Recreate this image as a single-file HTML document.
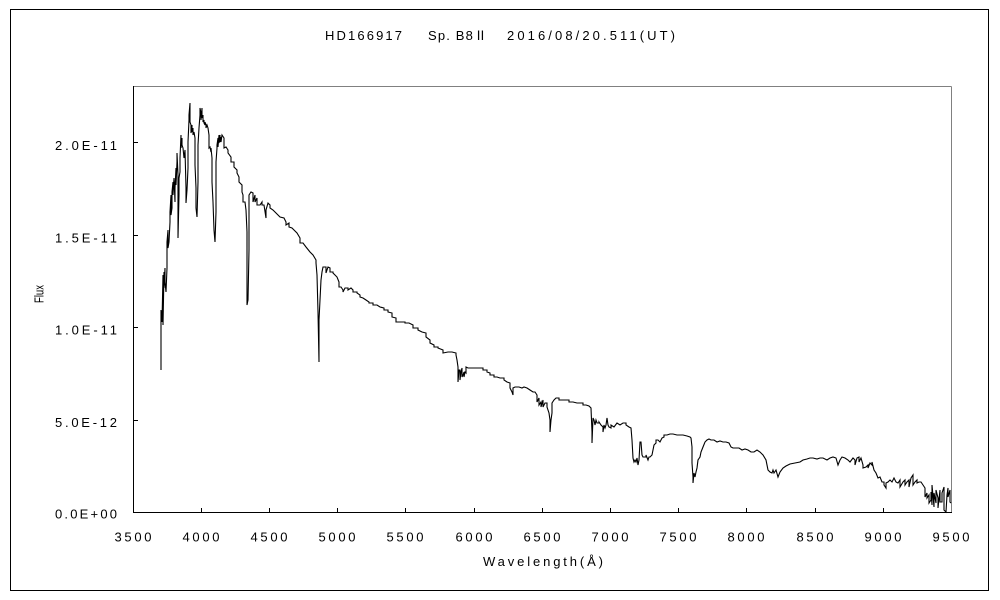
<!DOCTYPE html>
<html>
<head>
<meta charset="utf-8">
<style>
html,body{margin:0;padding:0;background:#fff;}
svg{display:block;}
text{font-family:"Liberation Sans","Noto Sans CJK JP",sans-serif;font-size:13px;fill:#000;}
</style>
</head>
<body>
<svg width="1000" height="600" viewBox="0 0 1000 600" xmlns="http://www.w3.org/2000/svg">
<rect x="0" y="0" width="1000" height="600" fill="#fff"/>
<rect x="10.5" y="9.5" width="978" height="581" fill="none" stroke="#000" stroke-width="1" shape-rendering="crispEdges"/>

<!-- title -->
<text x="325" y="40" textLength="77" lengthAdjust="spacing">HD166917</text>
<text x="428" y="40" textLength="59" lengthAdjust="spacing">Sp. B8Ⅱ</text>
<text x="507" y="40" textLength="168" lengthAdjust="spacing">2016/08/20.511(UT)</text>

<!-- plot frame -->
<g shape-rendering="crispEdges" stroke-width="1">
<line x1="133.5" y1="86.5" x2="951.5" y2="86.5" stroke="#808080"/>
<line x1="951.5" y1="86.5" x2="951.5" y2="512.5" stroke="#808080"/>
<line x1="133.5" y1="86" x2="133.5" y2="513" stroke="#000"/>
<line x1="133" y1="512.5" x2="952" y2="512.5" stroke="#000"/>
<line x1="133" y1="142.5" x2="138" y2="142.5" stroke="#000"/>
<line x1="133" y1="235.5" x2="138" y2="235.5" stroke="#000"/>
<line x1="133" y1="327.5" x2="138" y2="327.5" stroke="#000"/>
<line x1="133" y1="420.5" x2="138" y2="420.5" stroke="#000"/>
<line x1="201.5" y1="508" x2="201.5" y2="512" stroke="#000"/>
<line x1="269.5" y1="508" x2="269.5" y2="512" stroke="#000"/>
<line x1="337.5" y1="508" x2="337.5" y2="512" stroke="#000"/>
<line x1="405.5" y1="508" x2="405.5" y2="512" stroke="#000"/>
<line x1="474.5" y1="508" x2="474.5" y2="512" stroke="#000"/>
<line x1="542.5" y1="508" x2="542.5" y2="512" stroke="#000"/>
<line x1="610.5" y1="508" x2="610.5" y2="512" stroke="#000"/>
<line x1="678.5" y1="508" x2="678.5" y2="512" stroke="#000"/>
<line x1="746.5" y1="508" x2="746.5" y2="512" stroke="#000"/>
<line x1="815.5" y1="508" x2="815.5" y2="512" stroke="#000"/>
<line x1="883.5" y1="508" x2="883.5" y2="512" stroke="#000"/>
</g>

<!-- y labels -->
<text x="55" y="150" textLength="62" lengthAdjust="spacing">2.0E-11</text>
<text x="55" y="242.5" textLength="62" lengthAdjust="spacing">1.5E-11</text>
<text x="55" y="334.5" textLength="62" lengthAdjust="spacing">1.0E-11</text>
<text x="55" y="427" textLength="62" lengthAdjust="spacing">5.0E-12</text>
<text x="55" y="518.5" textLength="62" lengthAdjust="spacing">0.0E+00</text>

<!-- x labels -->
<text x="114.5" y="541.5" textLength="37" lengthAdjust="spacing">3500</text>
<text x="182.5" y="541.5" textLength="37" lengthAdjust="spacing">4000</text>
<text x="250.5" y="541.5" textLength="37" lengthAdjust="spacing">4500</text>
<text x="318.5" y="541.5" textLength="37" lengthAdjust="spacing">5000</text>
<text x="386.5" y="541.5" textLength="37" lengthAdjust="spacing">5500</text>
<text x="455.5" y="541.5" textLength="37" lengthAdjust="spacing">6000</text>
<text x="523.5" y="541.5" textLength="37" lengthAdjust="spacing">6500</text>
<text x="591.5" y="541.5" textLength="37" lengthAdjust="spacing">7000</text>
<text x="659.5" y="541.5" textLength="37" lengthAdjust="spacing">7500</text>
<text x="727.5" y="541.5" textLength="37" lengthAdjust="spacing">8000</text>
<text x="796.5" y="541.5" textLength="37" lengthAdjust="spacing">8500</text>
<text x="864.5" y="541.5" textLength="37" lengthAdjust="spacing">9000</text>
<text x="932.5" y="541.5" textLength="37" lengthAdjust="spacing">9500</text>

<!-- axis titles -->
<text x="483" y="566" textLength="120" lengthAdjust="spacing">Wavelength(Å)</text>
<text transform="translate(43.5,303) rotate(-90)" x="0" y="0" textLength="18" lengthAdjust="spacingAndGlyphs">Flux</text>

<!-- spectrum -->
<polyline fill="none" stroke="#000" stroke-width="1.1" stroke-linejoin="miter" points="
161,370 161,310 162,322 163,275 163,325 164,272 164,288 165,268 165,282 166,292 167,268 167,242 168,230 168,248 169,242 170,222 170,212 171,195 171,215 172,208 172,192 173,182 173,195 174,178 175,202 175,188 176,168 176,185 177,162 177,153 178,175 178,238 179,195 179,178 180,172 180,158 181,135 181,148 182,138 182,145 183,148 184,158 185,150 186,188 186,203 187,190 188,168 188,142 189,120 189,115 190,103 190,122 191,125 191,133 192,125 192,132 193,128 193,135 194,132 195,138 195,165 196,188 196,208 197,217 198,182 198,145 199,128 200,115 200,108 201,113 201,120 202,108 202,118 203,115 203,122 204,120 204,123 205,125 205,122 206,125 206,128 207,125 208,128 209,135 209,148 210,147 211,152 211,148 212,158 212,182 213,202 214,230 215,242 216,212 216,162 217,148 217,145 218,138 218,147 219,135 219,143 220,135 220,142 221,137 221,142 222,135 224,138 224,148 226,147 228,150 228,153 231,157 231,162 234,162 234,167 237,170 237,173 239,177 239,182 242,185 242,192 243,195 243,202 245,202 246,210 247,232 247,305 248,300 249,250 249,195 251,192 253,193 253,202 255,195 255,202 257,198 257,205 260,205 262,202 262,205 264,205 266,218 266,210 268,203 270,205 270,208 273,210 276,213 280,217 284,218 286,222 286,225 289,223 289,227 292,228 294,230 297,233 300,238 300,243 303,243 306,247 310,252 313,255 316,260 316,263 317,275 318,312 319,362 319,320 320,300 321,280 322,272 323,267 326,267 326,273 328,267 330,268 330,272 333,272 333,273 335,275 337,277 339,282 339,287 341,287 343,290 343,292 345,288 348,288 348,290 351,288 353,290 353,292 357,292 357,293 360,295 360,297 363,298 366,300 369,302 369,303 373,303 373,305 377,305 380,307 384,308 384,310 388,310 388,312 392,313 392,317 396,318 396,322 401,322 405,322 405,323 409,323 413,325 413,328 418,328 418,330 422,332 426,333 426,337 430,340 430,343 434,345 434,347 438,347 438,348 443,350 443,353 448,352 452,352 456,353 456,355 457,360 458,367 458,382 459,370 460,370 460,380 461,372 462,368 462,377 463,375 464,372 464,377 465,372 466,373 466,367 468,368 471,368 475,368 479,368 483,368 483,370 487,370 487,372 490,373 490,375 494,375 494,377 497,377 500,378 504,378 504,380 507,382 510,383 510,388 512,392 513,395 513,388 515,387 519,387 522,388 524,387 527,388 530,390 533,392 535,392 537,395 537,402 539,398 539,405 541,402 541,407 543,400 543,407 545,403 547,403 547,407 549,413 550,420 550,432 551,420 552,413 552,403 554,400 556,398 559,398 559,400 563,400 566,400 569,400 569,402 573,402 577,403 580,403 583,403 583,405 586,405 589,406 591,408 592,432 592,443 593,418 594,420 595,425 596,420 597,423 599,423 599,422 601,425 603,427 603,432 604,425 605,428 606,425 607,418 608,425 609,427 611,428 611,425 614,427 617,423 620,425 623,423 626,423 626,425 629,427 631,428 632,440 633,458 634,462 635,460 636,462 637,458 638,465 639,460 640,442 641,442 642,455 643,457 644,457 646,457 646,455 648,460 649,457 650,457 652,455 654,445 656,443 656,440 658,440 660,442 662,438 664,437 664,435 667,435 670,434 673,434 677,435 680,435 683,435 687,436 690,437 691,438 692,447 692,463 693,477 693,483 694,473 695,477 696,472 697,468 698,460 700,457 701,452 703,447 705,442 707,440 709,439 711,440 714,440 717,442 720,441 723,442 726,442 729,443 731,447 733,448 736,448 739,448 742,450 745,449 748,450 751,452 754,452 757,450 760,452 763,455 766,460 767,465 768,470 770,472 772,473 773,470 774,473 776,470 778,477 780,472 783,468 786,466 790,464 795,463 800,462 803,460 807,459 810,458 813,458 817,459 820,458 823,458 827,460 830,458 833,457 836,458 838,465 840,460 842,457 845,458 848,460 850,462 853,458 855,460 855,465 857,458 859,457 859,462 861,458 863,465 863,468 866,467 868,465 868,468 870,463 872,465 872,462 874,470 876,473 878,478 880,477 882,482 884,482 884,485 886,488 886,483 888,482 890,480 892,482 894,478 896,482 898,483 900,480 900,487 903,482 905,480 905,485 907,482 909,480 909,487 911,478 913,475 913,485 915,482 917,480 917,483 919,482 921,482 923,485 925,488 925,497 927,493 927,498 929,495 929,503 931,500 931,492 932,505 932,485 934,507 934,493 936,503 936,490 938,498 938,508 940,490 940,502 942,502 942,493 944,487 944,510 946,512 947,495 948,488 948,497 950,490 950,502 951,503
"/>
</svg>
</body>
</html>
